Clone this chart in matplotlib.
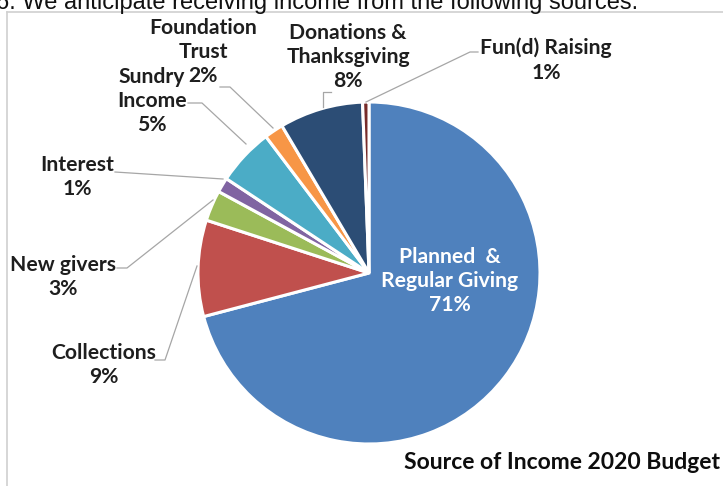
import matplotlib
matplotlib.use("Agg")
import matplotlib.pyplot as plt

# ---- data ----
categories = ["Planned  &\nRegular Giving", "Collections", "New givers", "Interest",
              "Sundry\nIncome", "Foundation\nTrust", "Donations &\nThanksgiving",
              "Fun(d) Raising"]
values = [70.9, 9.1, 2.9, 1.4, 5.4, 1.8, 7.9, 0.6]
colors = ["#4F81BD", "#C0504D", "#9BBB59", "#8064A2", "#4BACC6", "#F79646",
          "#2C4D75", "#772C2A"]
title = "Source of Income 2020 Budget"
heading = "6. We anticipate receiving income from the following sources."

# ---- layout (pixel coords, y from top) ----
W, H = 723, 486
def Y(p):
    return H - p

label_pos = [(450, 281), (104, 365), (63, 277), (77, 177),
             (152, 101), (203, 52), (348, 57), (546, 60)]
leaders = [None,
           [(155, 360), (165, 360), (197, 266)],
           [(117, 268), (127, 268), (213, 200)],
           [(115, 172), (223, 179)],
           [(188, 103), (202, 103), (246, 144)],
           [(220, 87), (230, 87), (273, 128)],
           [(331, 92), (323, 92), (323, 107)],
           [(478, 52), (470, 52), (366, 102)]]

fig = plt.figure(figsize=(W / 100, H / 100), dpi=100)
ax = fig.add_axes([0, 0, 1, 1])

ax.pie(values, colors=colors, startangle=90, counterclock=False,
       center=(369, Y(273)), radius=171,
       wedgeprops=dict(edgecolor="white", linewidth=2.2))

ax.set_xlim(0, W)
ax.set_ylim(0, H)
ax.set_aspect("equal")
ax.axis("off")

FONT = "Lato"
TXT = "#1e1e1e"

for i, (cat, v) in enumerate(zip(categories, values)):
    x, y = label_pos[i]
    col = "white" if i == 0 else TXT
    ax.text(x, Y(y), f"{cat}\n{round(v)}%", ha="center", va="center",
            fontsize=15.2, fontweight="bold", family=FONT, color=col,
            linespacing=1.28)
    if leaders[i]:
        xs = [p[0] for p in leaders[i]]
        ys = [Y(p[1]) for p in leaders[i]]
        ax.plot(xs, ys, color="#A6A6A6", lw=0.9)

ax.text(720, Y(462), title, ha="right", va="center", fontsize=16.5,
        fontweight="bold", family=FONT, color="#0d0d0d")

# heading (cut off at top, as in the reference) and chart frame
ax.text(-4, Y(9), heading, ha="left", va="baseline", fontsize=17,
        family="Liberation Sans", color="#111111")
ax.fill_between([0, W], Y(12), H, color="white", zorder=0)
ax.plot([7, W], [Y(12), Y(12)], color="#D0D0D0", lw=1.2)
ax.plot([7, 7], [Y(12), 0], color="#D0D0D0", lw=1.2)

fig.savefig("out.png", dpi=100)
